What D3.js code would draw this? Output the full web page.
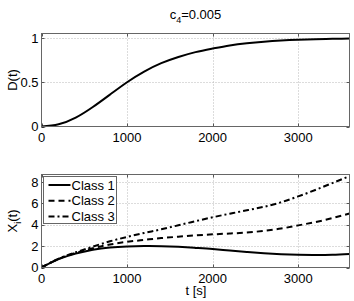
<!DOCTYPE html>
<html>
<head>
<meta charset="utf-8">
<script src="https://cdn.jsdelivr.net/npm/d3@7"></script>
<style>
  body { margin: 0; background: #fff; }
  svg { display: block; font-family: "Liberation Sans", Arial, sans-serif; }
</style>
</head>
<body>
<div id="chart"></div>
<script>
// tiempos muestreados (s)
const tiempos = [0, 200, 400, 600, 800, 1000, 1200, 1400, 1600, 1800, 2000,
                 2200, 2400, 2600, 2800, 3000, 3200, 3400, 3600];
const dValores = [0, 0.025, 0.1, 0.22, 0.36, 0.5, 0.62, 0.715, 0.785, 0.84, 0.88,
                  0.915, 0.94, 0.958, 0.971, 0.98, 0.986, 0.99, 0.993];
const clase1 = [0, 0.78, 1.3, 1.67, 1.88, 1.97, 2.0, 1.99, 1.93, 1.83, 1.72,
                1.58, 1.45, 1.33, 1.24, 1.19, 1.18, 1.2, 1.27];
const clase2 = [0, 0.8, 1.36, 1.8, 2.15, 2.4, 2.58, 2.75, 2.88, 3.0, 3.1,
                3.18, 3.27, 3.43, 3.64, 3.94, 4.25, 4.62, 5.05];
const clase3 = [0, 0.82, 1.42, 1.95, 2.45, 2.86, 3.23, 3.57, 3.95, 4.33, 4.7,
                5.03, 5.35, 5.68, 6.1, 6.65, 7.25, 7.9, 8.55];
const nombres = ["Class 1", "Class 2", "Class 3"];
const xTicks = [0, 1000, 2000, 3000];
const yTicksD = [0, 0.5, 1];
const yTicksX = [0, 2, 4, 6, 8];

const width = 354, height = 301;
const svg = d3.select("#chart").append("svg")
    .attr("width", width).attr("height", height);

const x = d3.scaleLinear().domain([0, 3600]).range([41.5, 349.5]);

function panel(top, bottom, yDomain, yTicks, fmt) {
    const y = d3.scaleLinear().domain(yDomain).range([bottom, top]);
    const g = svg.append("g");

    // rejilla punteada
    g.selectAll(".gx").data(xTicks.filter(t => t > 0)).join("line")
        .attr("x1", d => Math.round(x(d)) + 0.5).attr("x2", d => Math.round(x(d)) + 0.5)
        .attr("y1", top).attr("y2", bottom)
        .attr("stroke", "#b8b8b8").attr("stroke-dasharray", "1,2");
    g.selectAll(".gy").data(yTicks.filter(t => t > yDomain[0])).join("line")
        .attr("x1", x.range()[0]).attr("x2", x.range()[1])
        .attr("y1", d => Math.round(y(d)) + 0.5).attr("y2", d => Math.round(y(d)) + 0.5)
        .attr("stroke", "#b8b8b8").attr("stroke-dasharray", "1,2");

    // marcas hacia dentro
    const tl = 3;
    xTicks.forEach(t => {
        const px = Math.round(x(t)) + 0.5;
        g.append("line").attr("x1", px).attr("x2", px).attr("y1", bottom).attr("y2", bottom - tl).attr("stroke", "#555");
        g.append("line").attr("x1", px).attr("x2", px).attr("y1", top).attr("y2", top + tl).attr("stroke", "#555");
    });
    yTicks.forEach(t => {
        const py = Math.round(y(t)) + 0.5;
        g.append("line").attr("x1", x.range()[0]).attr("x2", x.range()[0] + tl).attr("y1", py).attr("y2", py).attr("stroke", "#555");
        g.append("line").attr("x1", x.range()[1]).attr("x2", x.range()[1] - tl).attr("y1", py).attr("y2", py).attr("stroke", "#555");
    });

    // etiquetas
    g.selectAll(".lx").data(xTicks).join("text")
        .attr("x", d => x(d)).attr("y", bottom + 15.5)
        .attr("text-anchor", "middle").attr("font-size", 13).text(d => d);
    g.selectAll(".ly").data(yTicks).join("text")
        .attr("x", 38.5).attr("y", d => y(d)).attr("dy", "0.36em")
        .attr("text-anchor", "end").attr("font-size", 13).text(fmt);

    return { g, y };
}

function caja(p, top, bottom) {
    p.g.append("rect")
        .attr("x", x.range()[0]).attr("y", top)
        .attr("width", x.range()[1] - x.range()[0]).attr("height", bottom - top)
        .attr("fill", "none").attr("stroke", "#666");
}

// panel superior
const p1 = panel(33.5, 126.5, [0, 1.05], yTicksD, d => d);
const linea1 = d3.line().x((d, i) => x(tiempos[i])).y(d => p1.y(d)).curve(d3.curveNatural);
p1.g.append("path").datum(dValores).attr("d", linea1)
    .attr("fill", "none").attr("stroke", "#000").attr("stroke-width", 2);
caja(p1, 33.5, 126.5);

// panel inferior
const p2 = panel(174.5, 267.5, [0, 8.7], yTicksX, d => d);
const estilos = [null, "6,4", "6,3,2,3"];
const linea2 = d3.line().x((d, i) => x(tiempos[i])).y(d => p2.y(d)).curve(d3.curveNatural);
[clase1, clase2, clase3].forEach((serie, k) => {
    p2.g.append("path").datum(serie).attr("d", linea2)
        .attr("fill", "none").attr("stroke", "#000").attr("stroke-width", 2)
        .attr("stroke-dasharray", estilos[k]);
});
caja(p2, 174.5, 267.5);

// leyenda
const ley = svg.append("g");
ley.append("rect").attr("x", 43.5).attr("y", 176.5).attr("width", 73).attr("height", 47)
    .attr("fill", "#fff").attr("stroke", "#666");
const filas = [185, 200.8, 216.5];
nombres.forEach((n, k) => {
    ley.append("line").attr("x1", 48.5).attr("x2", 70.5).attr("y1", filas[k]).attr("y2", filas[k])
        .attr("stroke", "#000").attr("stroke-width", 2).attr("stroke-dasharray", estilos[k]);
    ley.append("text").attr("x", 71.5).attr("y", filas[k]).attr("dy", "0.36em")
        .attr("font-size", 13).text(n);
});

// títulos
const tit = svg.append("text").attr("x", 195.5).attr("y", 18.5)
    .attr("text-anchor", "middle").attr("font-size", 13);
tit.append("tspan").text("c");
tit.append("tspan").attr("font-size", 9).attr("dy", 4).text("4");
tit.append("tspan").attr("dy", -4).text("=0.005");

svg.append("text").attr("transform", "translate(17,80) rotate(-90)")
    .attr("text-anchor", "middle").attr("font-size", 13).text("D(t)");

const yl = svg.append("text").attr("transform", "translate(17,221) rotate(-90)")
    .attr("text-anchor", "middle").attr("font-size", 13);
yl.append("tspan").text("X");
yl.append("tspan").attr("font-size", 9).attr("dy", 4).text("i");
yl.append("tspan").attr("dy", -4).text("(t)");

svg.append("text").attr("x", 196).attr("y", 294.5)
    .attr("text-anchor", "middle").attr("font-size", 13).text("t [s]");
</script>
</body>
</html>
